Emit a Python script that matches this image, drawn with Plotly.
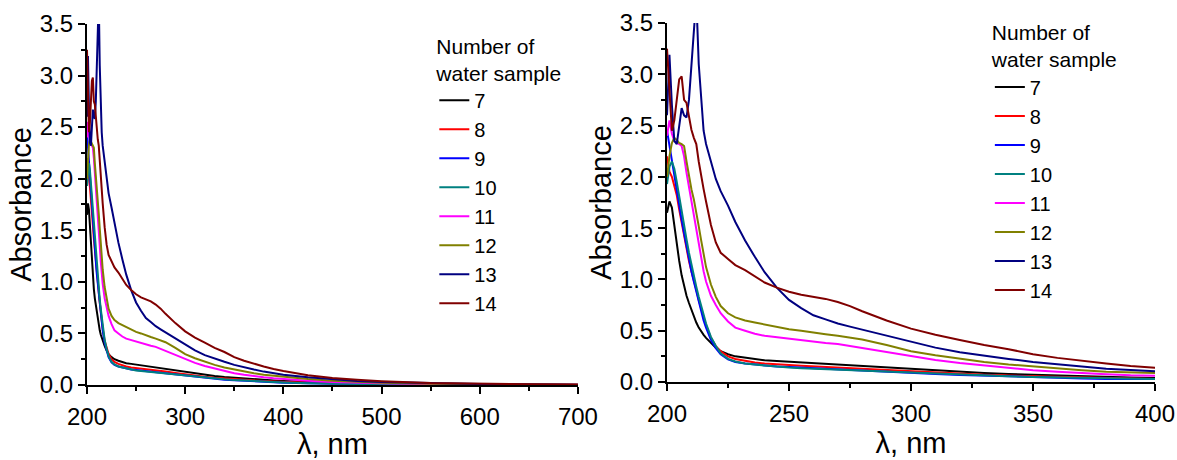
import plotly.graph_objects as go

# wavelength grid, nm
wl = [200, 201, 202, 203, 204, 205, 206, 207, 208, 209, 210, 211, 212, 213, 214, 215, 216,
      218, 220, 222, 225, 228, 232, 236, 240, 245, 250, 255, 260, 265, 270, 275, 280, 290,
      300, 310, 320, 330, 340, 350, 360, 370, 380, 390, 400, 425, 450, 475, 500, 550, 600,
      650, 700]

s7 = [1.65, 1.76, 1.70, 1.52, 1.35, 1.18, 1.04, 0.93, 0.84, 0.77, 0.70, 0.63, 0.58, 0.53, 0.49,
      0.46, 0.43, 0.38, 0.335, 0.30, 0.27, 0.25, 0.235, 0.222, 0.212, 0.205, 0.198, 0.19, 0.182,
      0.176, 0.17, 0.163, 0.155, 0.14, 0.124, 0.11, 0.098, 0.087, 0.077, 0.069, 0.061, 0.055,
      0.049, 0.044, 0.039, 0.029, 0.021, 0.016, 0.012, 0.006, 0.003, 0.002, 0.001]
s8 = [2.20, 2.05, 2.00, 1.92, 1.82, 1.68, 1.55, 1.42, 1.30, 1.18, 1.08, 1.00, 0.90, 0.80, 0.71,
      0.62, 0.55, 0.43, 0.35, 0.30, 0.25, 0.225, 0.205, 0.19, 0.18, 0.17, 0.165, 0.158, 0.152,
      0.147, 0.142, 0.136, 0.13, 0.116, 0.102, 0.09, 0.08, 0.071, 0.063, 0.056, 0.049, 0.043,
      0.038, 0.033, 0.029, 0.02, 0.014, 0.01, 0.007, 0.004, 0.002, 0.001, 0.001]
s9 = [2.45, 2.30, 2.15, 2.00, 1.86, 1.72, 1.58, 1.45, 1.32, 1.20, 1.08, 0.98, 0.88, 0.78, 0.69,
      0.60, 0.53, 0.41, 0.33, 0.27, 0.22, 0.195, 0.18, 0.17, 0.16, 0.15, 0.145, 0.14, 0.135,
      0.13, 0.125, 0.12, 0.115, 0.10, 0.088, 0.078, 0.068, 0.06, 0.052, 0.046, 0.04, 0.035,
      0.03, 0.026, 0.023, 0.016, 0.011, 0.008, 0.006, 0.003, 0.002, 0.001, 0.001]
s10 = [1.93, 2.10, 2.15, 2.08, 1.95, 1.80, 1.66, 1.52, 1.39, 1.26, 1.14, 1.03, 0.93, 0.83, 0.74,
       0.65, 0.57, 0.44, 0.35, 0.28, 0.225, 0.20, 0.18, 0.17, 0.16, 0.15, 0.14, 0.135, 0.13,
       0.125, 0.12, 0.115, 0.11, 0.10, 0.09, 0.08, 0.07, 0.062, 0.055, 0.048, 0.042, 0.037,
       0.032, 0.028, 0.025, 0.018, 0.012, 0.009, 0.006, 0.003, 0.002, 0.001, 0.001]
s11 = [2.40, 2.55, 2.42, 2.35, 2.33, 2.32, 2.30, 2.20, 2.04, 1.90, 1.76, 1.63, 1.50, 1.35, 1.20,
       1.08, 0.98, 0.84, 0.75, 0.67, 0.59, 0.53, 0.50, 0.47, 0.45, 0.435, 0.42, 0.405, 0.39,
       0.38, 0.37, 0.35, 0.33, 0.29, 0.25, 0.215, 0.185, 0.16, 0.135, 0.115, 0.10, 0.085,
       0.075, 0.065, 0.058, 0.042, 0.03, 0.022, 0.016, 0.009, 0.005, 0.003, 0.002]
s12 = [2.00, 2.20, 2.33, 2.38, 2.36, 2.33, 2.32, 2.30, 2.15, 2.00, 1.88, 1.78, 1.66, 1.52, 1.38,
       1.25, 1.12, 0.95, 0.83, 0.74, 0.67, 0.63, 0.60, 0.58, 0.56, 0.535, 0.515, 0.50, 0.48,
       0.465, 0.45, 0.435, 0.415, 0.36, 0.30, 0.26, 0.225, 0.195, 0.17, 0.15, 0.13, 0.115,
       0.10, 0.09, 0.08, 0.058, 0.042, 0.03, 0.022, 0.012, 0.007, 0.004, 0.002]
s13 = [2.60, 3.19, 2.70, 2.35, 2.32, 2.50, 2.67, 2.60, 2.58, 2.75, 3.05, 3.40, 3.75, 3.10, 2.72,
       2.45, 2.32, 2.15, 1.98, 1.86, 1.72, 1.56, 1.38, 1.22, 1.07, 0.92, 0.80, 0.72, 0.65,
       0.61, 0.57, 0.54, 0.51, 0.45, 0.39, 0.335, 0.29, 0.255, 0.225, 0.195, 0.17, 0.15,
       0.13, 0.115, 0.10, 0.075, 0.055, 0.04, 0.03, 0.017, 0.01, 0.006, 0.003]
s14 = [3.25, 2.85, 2.45, 2.55, 2.75, 2.95, 2.98, 2.75, 2.72, 2.60, 2.46, 2.38, 2.32, 2.15, 2.00,
       1.88, 1.76, 1.53, 1.36, 1.26, 1.20, 1.14, 1.09, 1.03, 0.97, 0.92, 0.88, 0.85, 0.83,
       0.81, 0.78, 0.74, 0.69, 0.60, 0.52, 0.46, 0.41, 0.36, 0.32, 0.27, 0.235, 0.205, 0.18,
       0.155, 0.135, 0.095, 0.068, 0.05, 0.037, 0.02, 0.012, 0.007, 0.004]

names = ["7", "8", "9", "10", "11", "12", "13", "14"]
series = [s7, s8, s9, s10, s11, s12, s13, s14]
colors = ["#000000", "#FF0000", "#0000FF", "#008080", "#FF00FF", "#808000", "#000080", "#800000"]

FONT = "Arial, Liberation Sans, sans-serif"

fig = go.Figure()
for name, ys, c in zip(names, series, colors):
    fig.add_trace(go.Scatter(x=wl, y=ys, mode="lines", name=name, line=dict(color=c, width=2),
                             xaxis="x", yaxis="y", legend="legend"))
    fig.add_trace(go.Scatter(x=wl, y=ys, mode="lines", name=name, line=dict(color=c, width=2),
                             xaxis="x2", yaxis="y2", legend="legend2"))

def xax(domain, rng, dtick, minor, anchor):
    return dict(domain=domain, range=rng, dtick=dtick, tick0=200, anchor=anchor,
                showline=True, linecolor="black", linewidth=2, showgrid=False, zeroline=False,
                ticks="outside", ticklen=7, tickwidth=2, tickcolor="black",
                minor=dict(dtick=minor, ticks="outside", ticklen=4, tickwidth=2, tickcolor="black"),
                tickfont=dict(size=24, color="black", family=FONT), ticklabelstandoff=2,
                title=dict(text="λ, nm", font=dict(size=29, color="black", family=FONT), standoff=4))

def yax(domain, anchor):
    return dict(domain=domain, range=[0, 3.5], dtick=0.5, tick0=0, anchor=anchor, tickformat=".1f",
                showline=True, linecolor="black", linewidth=2, showgrid=False, zeroline=False,
                ticks="outside", ticklen=7, tickwidth=2, tickcolor="black",
                minor=dict(dtick=0.25, ticks="outside", ticklen=4, tickwidth=2, tickcolor="black"),
                tickfont=dict(size=24, color="black", family=FONT), ticklabelstandoff=0,
                title=dict(text="Absorbance", font=dict(size=29, color="black", family=FONT), standoff=0))

def leg(x, y):
    return dict(x=x, y=y, xanchor="left", yanchor="top", bgcolor="rgba(0,0,0,0)",
                font=dict(size=20, color="black", family=FONT),
                title=dict(text="Number of<br>water sample", font=dict(size=21, color="black", family=FONT)))

fig.update_layout(
    width=1177, height=460,
    margin=dict(l=0, r=0, t=0, b=0, autoexpand=False),
    plot_bgcolor="white", paper_bgcolor="white",
    xaxis=xax([0.0739, 0.491], [200, 700], 100, 50, "y"),
    yaxis=yax([0.163, 0.948], "x"),
    xaxis2=xax([0.5667, 0.9813], [200, 400], 50, 25, "y2"),
    yaxis2=yax([0.1696, 0.95], "x2"),
    legend=leg(0.369, 0.943),
    legend2=leg(0.841, 0.972),
)

# drop the default body margin so the figure sits at the page corner
fig.write_html("out.html", config={"displayModeBar": False},
               post_script="document.body.style.margin='0';")
